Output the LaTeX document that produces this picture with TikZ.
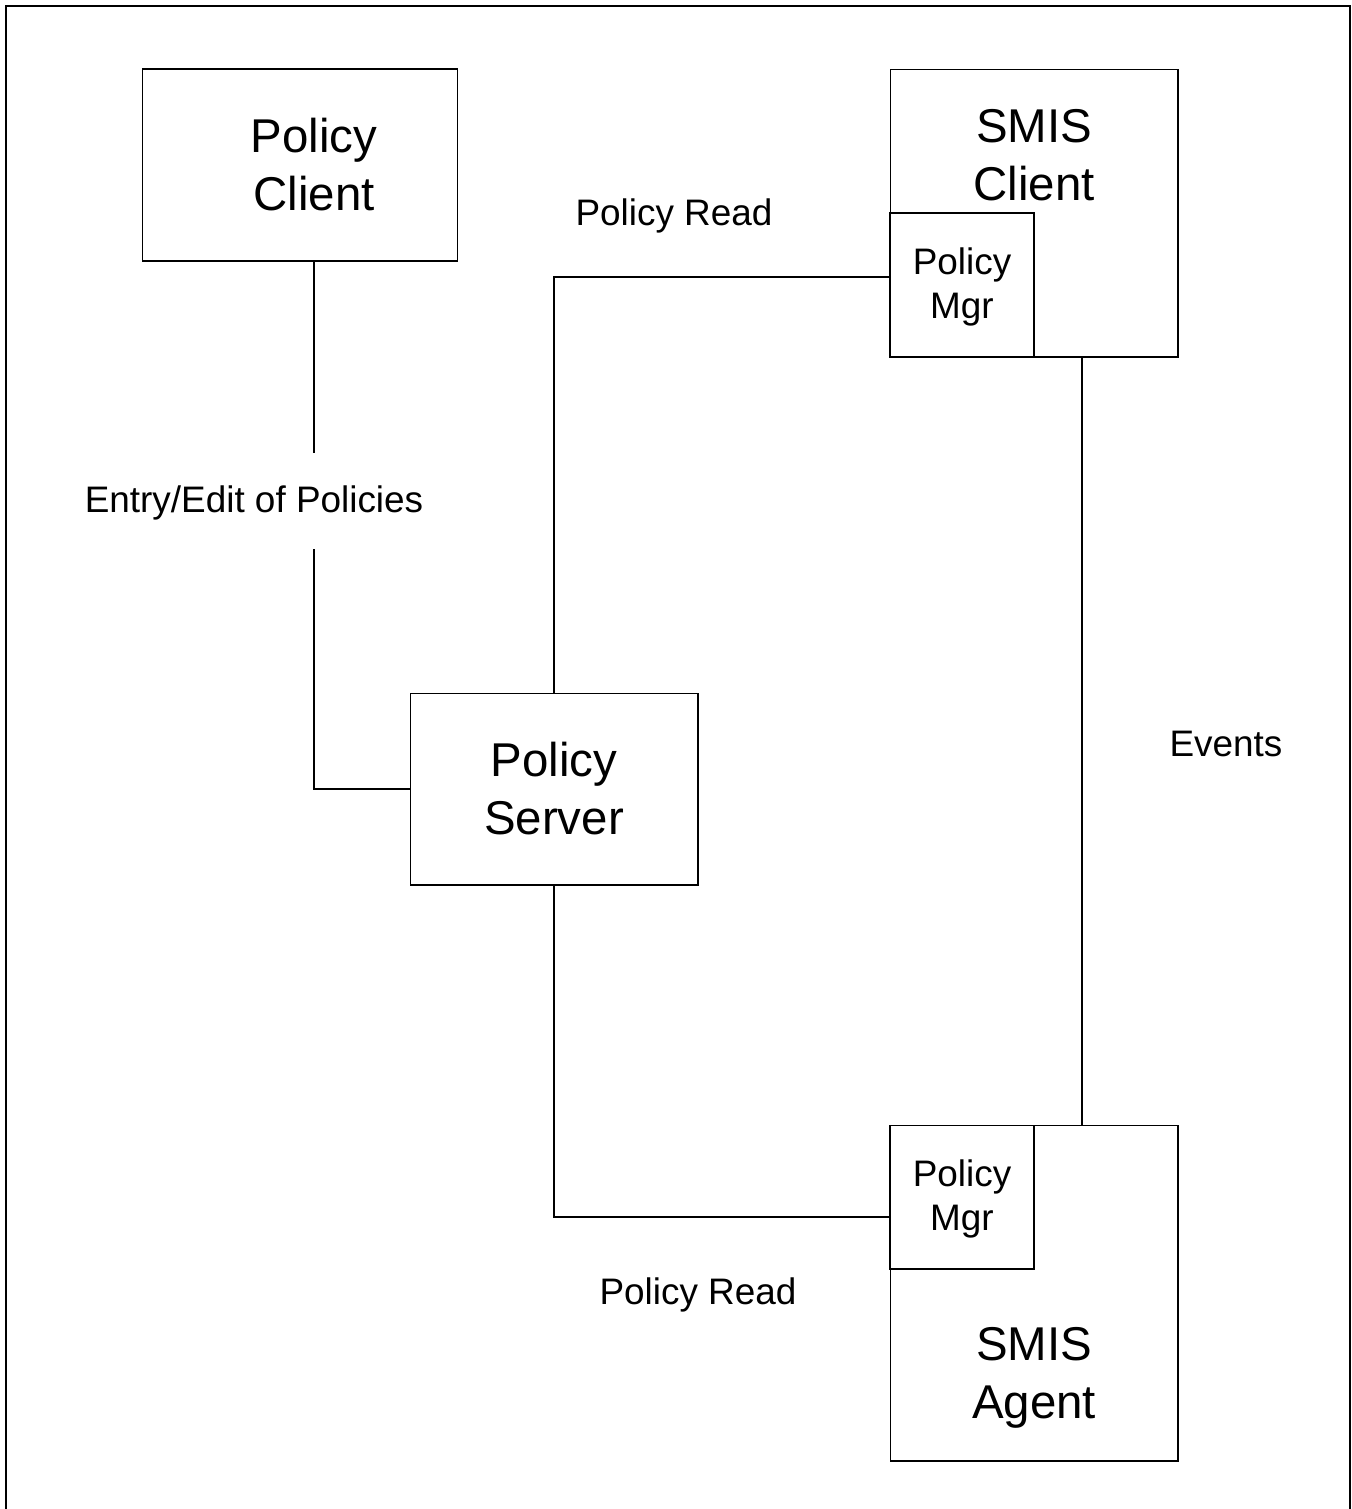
\documentclass[tikz,border=0pt]{standalone}
\usepackage{fontspec}
\setmainfont{Liberation Sans}
\usetikzlibrary{positioning}
\newcommand{\bigfont}{\fontsize{27}{33}\selectfont}
\newcommand{\smallfont}{\fontsize{21}{25}\selectfont}
\tikzset{
    box/.style={draw, line width=0.6pt, rectangle, inner sep=0pt, fill=white},
    bigtext/.style={align=center, font=\bigfont, inner sep=0pt},
    smalltext/.style={align=center, font=\smallfont, inner sep=0pt},
    conn/.style={line width=0.6pt}
}

\begin{document}
\begin{tikzpicture}[x=0.02cm, y=-0.02cm]
    \useasboundingbox (0,0) rectangle (1352,1509);
    % Draw frame
    \draw[line width=1.6pt] (6,1509) -- (6,6) -- (1350,6) -- (1350,1509);

    % Draw boxes
    \node[box, minimum width=6.32cm, minimum height=3.84cm] (pclient) at (300,165) {};
    \node[bigtext] (pclienttxt) at (314,165) {Policy\\Client};

    \node[box, minimum width=5.76cm, minimum height=5.76cm] (sclient) at (1034,213) {};
    \node[bigtext] (sclienttxt) at (1034,155) {SMIS\\Client};
    \node[box, minimum width=2.88cm, minimum height=2.88cm] (mgrtop) at (962,285) {};
    \node[smalltext] (mgrtoptxt) at (962,287) {Policy\\Mgr};

    \node[box, minimum width=5.76cm, minimum height=3.84cm] (pserver) at (554,789) {};
    \node[bigtext] (pservertxt) at (554,789) {Policy\\Server};

    \node[box, minimum width=5.76cm, minimum height=6.72cm] (sagent) at (1034,1293) {};
    \node[bigtext] (sagenttxt) at (1034,1378) {SMIS\\Agent};
    \node[box, minimum width=2.88cm, minimum height=2.88cm] (mgrbot) at (962,1197) {};
    \node[smalltext] (mgrbottxt) at (962,1199) {Policy\\Mgr};

    % Draw labels
    \node[smalltext] (readtop) at (674,216) {Policy Read};
    \node[smalltext] (entry) at (254,503) {Entry/Edit of Policies};
    \node[smalltext] (events) at (1226,744) {Events};
    \node[smalltext] (readbot) at (698,1295) {Policy Read};

    % Draw connectors
    \coordinate (gapA) at (314,453);
    \coordinate (gapB) at (314,549);
    \coordinate (readA) at (890,277);
    \coordinate (readB) at (890,1217);

    \draw[conn] (pclient.south -| gapA) -- (gapA);
    \draw[conn] (gapB) |- (pserver.west);
    \draw[conn] (pserver.north) |- (readA);
    \draw[conn] (pserver.south) |- (readB);
    \draw[conn] ([xshift=0.96cm]sclient.south) -- ([xshift=0.96cm]sagent.north);
\end{tikzpicture}
\end{document}
